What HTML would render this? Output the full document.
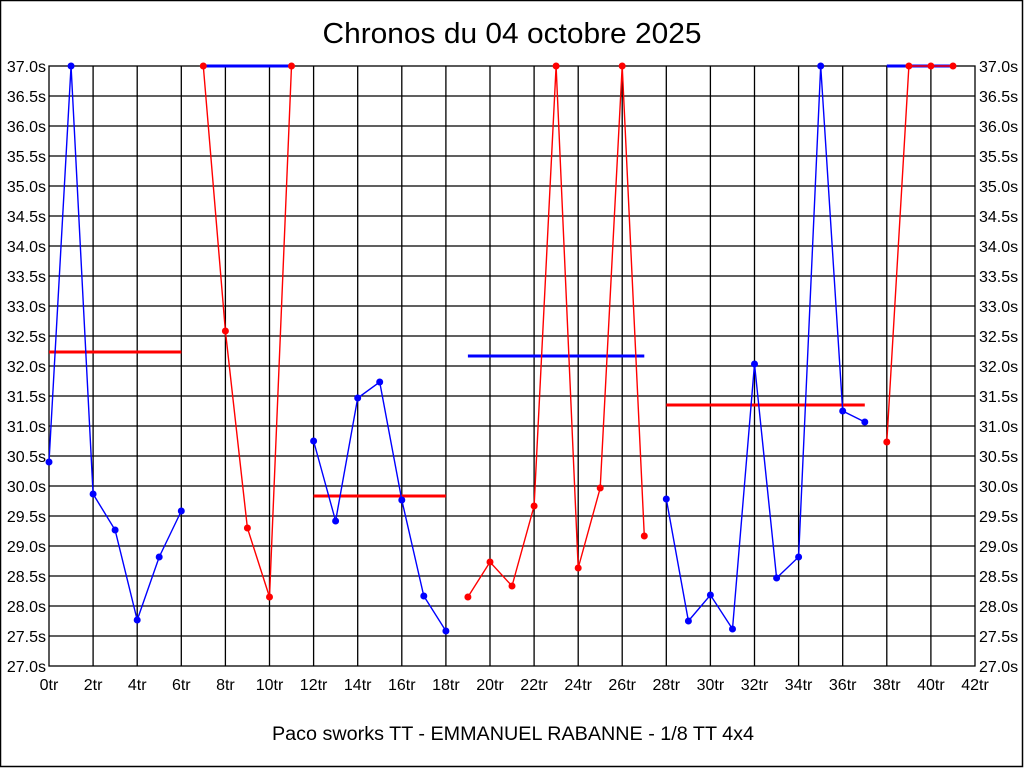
<!DOCTYPE html>
<html><head><meta charset="utf-8"><style>
body{margin:0;background:#fff}
svg{display:block}
text{font-family:"Liberation Sans",sans-serif;fill:#000}
</style></head><body>
<svg width="1024" height="768" viewBox="0 0 1024 768">
<rect x="0.5" y="0.5" width="1022" height="766" fill="#fff" stroke="#000" stroke-width="1.5"/>
<text x="512" y="43" font-size="29" text-anchor="middle" textLength="379" lengthAdjust="spacingAndGlyphs">Chronos du 04 octobre 2025</text>
<text x="513" y="740" font-size="19" text-anchor="middle" textLength="482" lengthAdjust="spacingAndGlyphs">Paco sworks TT - EMMANUEL RABANNE - 1/8 TT 4x4</text>
<g stroke="#000" stroke-width="1.3" fill="none">
<rect x="49" y="66" width="926" height="600"/>
<path d="M49 96H975M49 126H975M49 156H975M49 186H975M49 216H975M49 246H975M49 276H975M49 306H975M49 336H975M49 366H975M49 396H975M49 426H975M49 456H975M49 486H975M49 516H975M49 546H975M49 576H975M49 606H975M49 636H975"/>
<path d="M93.1 66V666M137.2 66V666M181.3 66V666M225.4 66V666M269.5 66V666M313.6 66V666M357.7 66V666M401.8 66V666M445.9 66V666M490 66V666M534.1 66V666M578.2 66V666M622.2 66V666M666.3 66V666M710.4 66V666M754.5 66V666M798.6 66V666M842.7 66V666M886.8 66V666M930.9 66V666"/>
</g>
<g font-size="16" text-anchor="end">
<text x="46" y="72">37.0s</text><text x="46" y="102">36.5s</text><text x="46" y="132">36.0s</text><text x="46" y="162">35.5s</text><text x="46" y="192">35.0s</text><text x="46" y="222">34.5s</text><text x="46" y="252">34.0s</text><text x="46" y="282">33.5s</text><text x="46" y="312">33.0s</text><text x="46" y="342">32.5s</text><text x="46" y="372">32.0s</text><text x="46" y="402">31.5s</text><text x="46" y="432">31.0s</text><text x="46" y="462">30.5s</text><text x="46" y="492">30.0s</text><text x="46" y="522">29.5s</text><text x="46" y="552">29.0s</text><text x="46" y="582">28.5s</text><text x="46" y="612">28.0s</text><text x="46" y="642">27.5s</text><text x="46" y="672">27.0s</text>
</g>
<g font-size="16" text-anchor="start">
<text x="979" y="72">37.0s</text><text x="979" y="102">36.5s</text><text x="979" y="132">36.0s</text><text x="979" y="162">35.5s</text><text x="979" y="192">35.0s</text><text x="979" y="222">34.5s</text><text x="979" y="252">34.0s</text><text x="979" y="282">33.5s</text><text x="979" y="312">33.0s</text><text x="979" y="342">32.5s</text><text x="979" y="372">32.0s</text><text x="979" y="402">31.5s</text><text x="979" y="432">31.0s</text><text x="979" y="462">30.5s</text><text x="979" y="492">30.0s</text><text x="979" y="522">29.5s</text><text x="979" y="552">29.0s</text><text x="979" y="582">28.5s</text><text x="979" y="612">28.0s</text><text x="979" y="642">27.5s</text><text x="979" y="672">27.0s</text>
</g>
<g font-size="16" text-anchor="middle">
<text x="49" y="690">0tr</text><text x="93.1" y="690">2tr</text><text x="137.2" y="690">4tr</text><text x="181.3" y="690">6tr</text><text x="225.4" y="690">8tr</text><text x="269.5" y="690">10tr</text><text x="313.6" y="690">12tr</text><text x="357.7" y="690">14tr</text><text x="401.8" y="690">16tr</text><text x="445.9" y="690">18tr</text><text x="490" y="690">20tr</text><text x="534.1" y="690">22tr</text><text x="578.2" y="690">24tr</text><text x="622.2" y="690">26tr</text><text x="666.3" y="690">28tr</text><text x="710.4" y="690">30tr</text><text x="754.5" y="690">32tr</text><text x="798.6" y="690">34tr</text><text x="842.7" y="690">36tr</text><text x="886.8" y="690">38tr</text><text x="930.9" y="690">40tr</text><text x="975" y="690">42tr</text>
</g>
<g stroke-width="3">
<path d="M49 352H181.3" stroke="#f00"/>
<path d="M203.3 66H291.5" stroke="#00f"/>
<path d="M313.6 496H445.9" stroke="#f00"/>
<path d="M467.9 356H644.3" stroke="#00f"/>
<path d="M666.3 405H864.8" stroke="#f00"/>
<path d="M886.8 66H953" stroke="#00f"/>
</g>
<g fill="none" stroke-width="1.4">
<polyline stroke="#00f" points="49,462 71.05,66 93.1,494 115.1,530 137.2,620 159.2,557 181.3,511"/>
<polyline stroke="#f00" points="203.3,66 225.4,331 247.4,528 269.5,597 291.5,66"/>
<polyline stroke="#00f" points="313.6,441 335.6,521 357.7,398 379.7,382 401.8,500 423.8,596 445.9,631"/>
<polyline stroke="#f00" points="467.9,597 490,562 512,586 534.1,506 556.1,66 578.2,568 600.2,488 622.2,66 644.3,536"/>
<polyline stroke="#00f" points="666.3,499 688.4,621 710.4,595 732.5,629 754.5,364 776.6,578 798.6,557 820.7,66 842.7,411 864.8,422"/>
<polyline stroke="#f00" points="886.8,442 908.9,66 930.9,66 953,66"/>
</g>
<g fill="#00f">
<circle cx="49" cy="462" r="3.5"/><circle cx="71.05" cy="66" r="3.5"/><circle cx="93.1" cy="494" r="3.5"/><circle cx="115.1" cy="530" r="3.5"/><circle cx="137.2" cy="620" r="3.5"/><circle cx="159.2" cy="557" r="3.5"/><circle cx="181.3" cy="511" r="3.5"/>
<circle cx="313.6" cy="441" r="3.5"/><circle cx="335.6" cy="521" r="3.5"/><circle cx="357.7" cy="398" r="3.5"/><circle cx="379.7" cy="382" r="3.5"/><circle cx="401.8" cy="500" r="3.5"/><circle cx="423.8" cy="596" r="3.5"/><circle cx="445.9" cy="631" r="3.5"/>
<circle cx="666.3" cy="499" r="3.5"/><circle cx="688.4" cy="621" r="3.5"/><circle cx="710.4" cy="595" r="3.5"/><circle cx="732.5" cy="629" r="3.5"/><circle cx="754.5" cy="364" r="3.5"/><circle cx="776.6" cy="578" r="3.5"/><circle cx="798.6" cy="557" r="3.5"/><circle cx="820.7" cy="66" r="3.5"/><circle cx="842.7" cy="411" r="3.5"/><circle cx="864.8" cy="422" r="3.5"/>
</g>
<g fill="#f00">
<circle cx="203.3" cy="66" r="3.5"/><circle cx="225.4" cy="331" r="3.5"/><circle cx="247.4" cy="528" r="3.5"/><circle cx="269.5" cy="597" r="3.5"/><circle cx="291.5" cy="66" r="3.5"/>
<circle cx="467.9" cy="597" r="3.5"/><circle cx="490" cy="562" r="3.5"/><circle cx="512" cy="586" r="3.5"/><circle cx="534.1" cy="506" r="3.5"/><circle cx="556.1" cy="66" r="3.5"/><circle cx="578.2" cy="568" r="3.5"/><circle cx="600.2" cy="488" r="3.5"/><circle cx="622.2" cy="66" r="3.5"/><circle cx="644.3" cy="536" r="3.5"/>
<circle cx="886.8" cy="442" r="3.5"/><circle cx="908.9" cy="66" r="3.5"/><circle cx="930.9" cy="66" r="3.5"/><circle cx="953" cy="66" r="3.5"/>
</g>
</svg>
</body></html>
